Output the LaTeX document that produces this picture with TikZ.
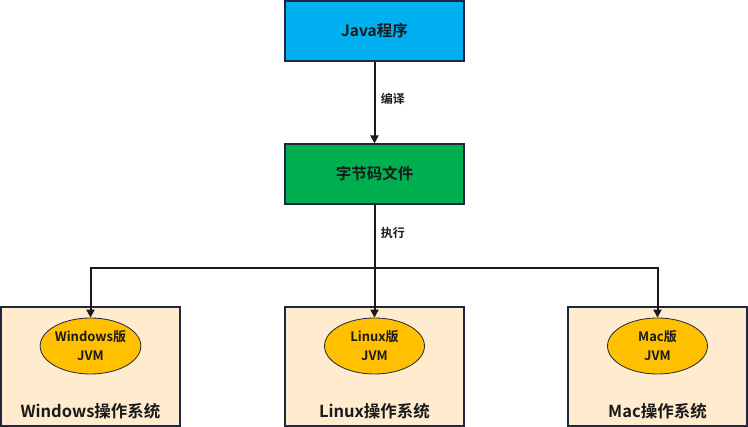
\documentclass[tikz,border=0pt]{standalone}
\usepackage{fontspec}
\setmainfont{Noto Sans CJK SC}[BoldFont={* Bold}]
\usetikzlibrary{shapes.geometric,arrows.meta}
\definecolor{cblue}{HTML}{00B0F0}
\definecolor{cgreen}{HTML}{00B050}
\definecolor{cpeach}{HTML}{FFEBCD}
\definecolor{cgold}{HTML}{FFC000}
\definecolor{cedge}{HTML}{1F2740}
\definecolor{ctext}{HTML}{1A1A1A}
\begin{document}
\begin{tikzpicture}[x=1pt,y=-1pt,
  box/.style={draw=cedge,line width=1.2pt,minimum width=179pt,minimum height=60pt,inner sep=0pt,font=\bfseries\fontsize{15.5}{18}\selectfont,text=ctext},
  osbox/.style={draw=cedge,line width=1.2pt,fill=cpeach,minimum width=179pt,minimum height=119pt,inner sep=0pt},
  jvm/.style={ellipse,draw=cedge,line width=0.8pt,fill=cgold,minimum width=100pt,minimum height=56pt,inner sep=0pt,align=center,font=\bfseries\fontsize{13}{19}\selectfont,text=ctext},
  oslabel/.style={font=\bfseries\fontsize{16.5}{18}\selectfont,text=ctext},
  lbl/.style={font=\bfseries\fontsize{12}{13}\selectfont,text=ctext},
  conn/.style={draw=ctext,line width=2pt,-{Triangle[width=8pt,length=8pt]}},
  line/.style={draw=ctext,line width=2pt}]
\useasboundingbox (0,0) rectangle (748,427);
\node[box,fill=cblue] (java) at (374.5,31) {Java程序};
\node[box,fill=cgreen] (byte) at (374.5,174) {字节码文件};
\node[osbox] (win) at (90.5,366.5) {};
\node[osbox] (lin) at (374.5,366.5) {};
\node[osbox] (mac) at (657.5,366.5) {};
\node[jvm] (wj) at (90.5,346) {Windows版\\JVM};
\node[jvm] (lj) at (374.5,346) {Linux版\\JVM};
\node[jvm] (mj) at (657.5,346) {Mac版\\JVM};
\node[oslabel] (wl) at (90.5,411) {Windows操作系统};
\node[oslabel] (ll) at (374.5,411) {Linux操作系统};
\node[oslabel] (ml) at (657.5,411) {Mac操作系统};
\coordinate (hub) at (374.5,268);
\draw[conn] (java) -- node[lbl,right=2pt,pos=0.45] (l1) {编译} (byte);
\draw[line] (byte) -- node[lbl,right=2pt,pos=0.45] (l2) {执行} (hub);
\draw[conn] (hub) -- (lj);
\draw[conn] (hub) -| (wj);
\draw[conn] (hub) -| (mj);
\end{tikzpicture}
\end{document}
